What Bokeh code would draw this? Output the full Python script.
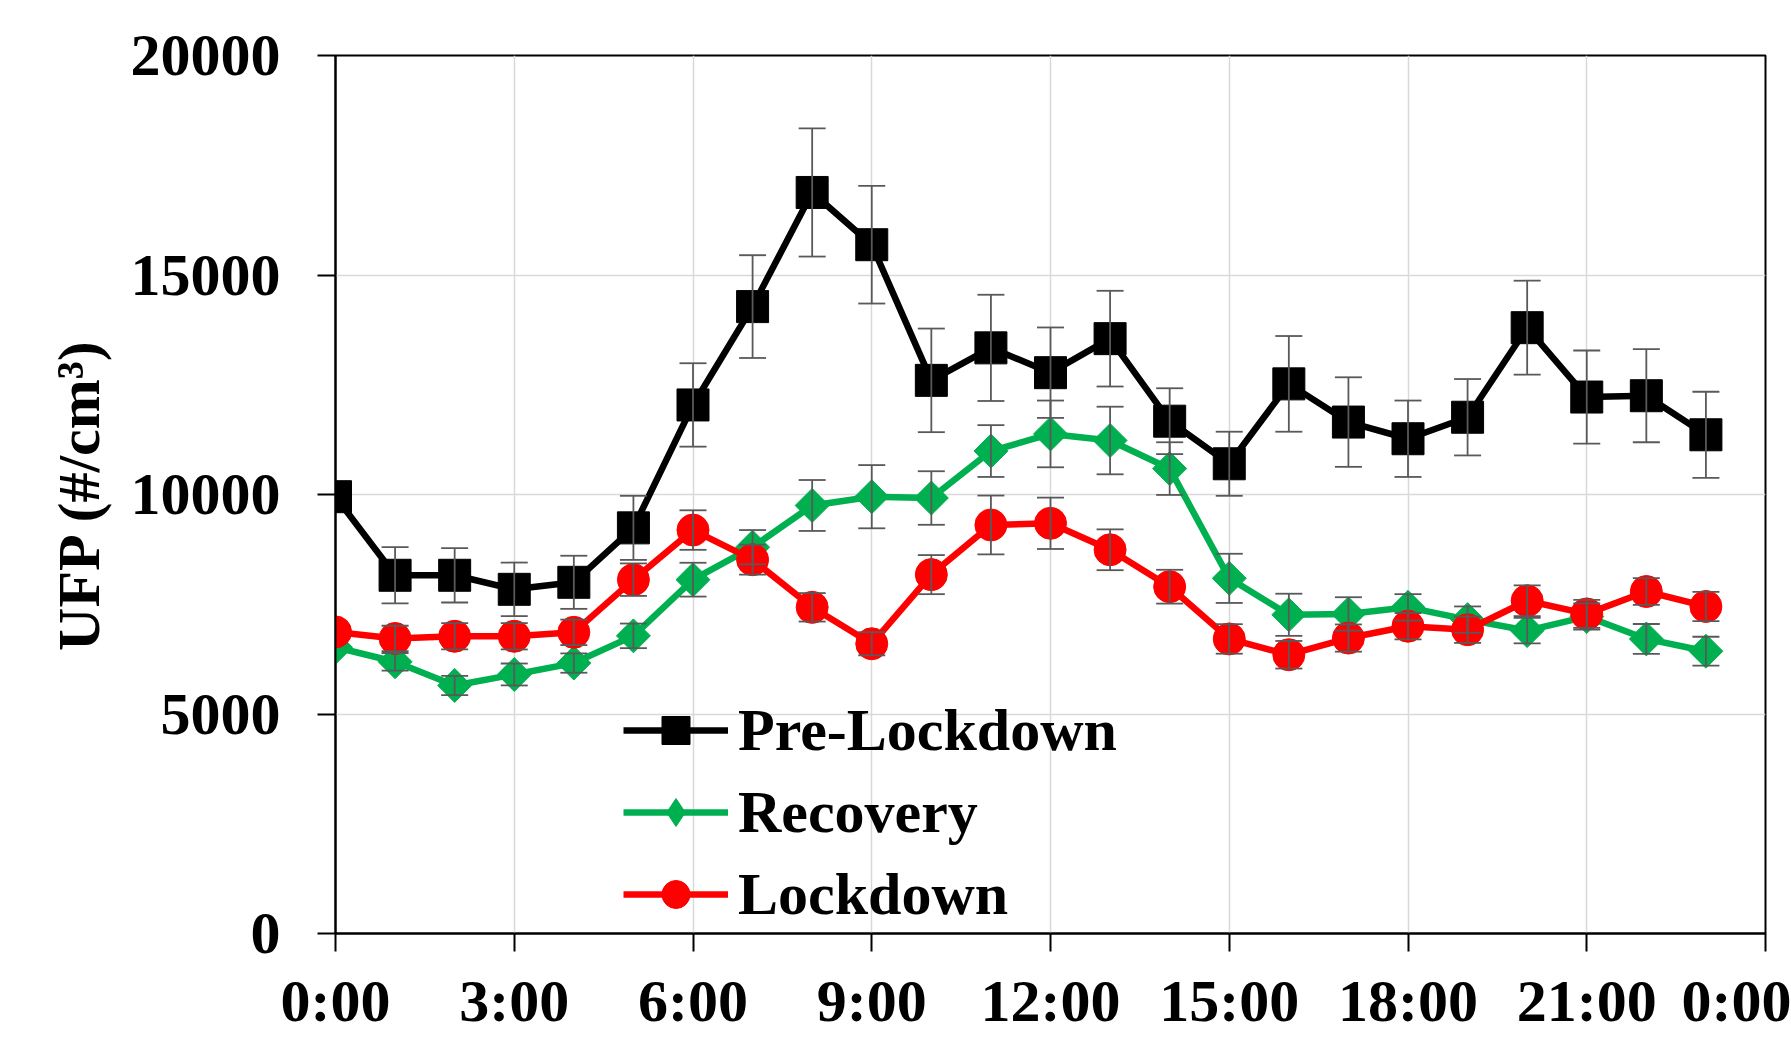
import math
from bokeh.plotting import figure
from bokeh.models import (Range1d, FixedTicker, Whisker, TeeHead, ColumnDataSource,
                          Legend, LegendItem)
from bokeh.embed import file_html
from bokeh.resources import INLINE

# ---------------- data ----------------
hours = list(range(24))
tick_hours = [0, 3, 6, 9, 12, 15, 18, 21, 24]
tick_labels = ["0:00", "3:00", "6:00", "9:00", "12:00", "15:00", "18:00", "21:00", "0:00"]
y_ticks = [0, 5000, 10000, 15000, 20000]
y_tick_labels = ["0", "5000", "10000", "15000", "20000"]

series_names = ["Pre-Lockdown", "Recovery", "Lockdown"]

pre_lockdown = [9950, 8160, 8160, 7840, 8000, 9240, 12040, 14280, 16880, 15690, 12600, 13340,
                12775, 13550, 11670, 10700, 12520, 11650, 11270, 11760, 13800, 12220, 12250, 11360]
pre_lockdown_err = [0, 640, 620, 610, 605, 730, 950, 1170, 1460, 1340, 1180, 1210,
                    1030, 1090, 750, 730, 1090, 1020, 870, 870, 1070, 1060, 1060, 980]

recovery = [6520, 6190, 5650, 5900, 6160, 6780, 8060, 8800, 9750, 9950, 9920, 10990,
            11380, 11230, 10590, 8090, 7260, 7280, 7430, 7150, 6900, 7220, 6710, 6430]
recovery_err = [0, 200, 220, 250, 220, 280, 385, 390, 580, 720, 610, 590,
                760, 770, 600, 560, 480, 380, 300, 300, 290, 300, 340, 330]

lockdown = [6870, 6720, 6770, 6770, 6860, 8060, 9190, 8515, 7430, 6600, 8175, 9306,
            9344, 8741, 7900, 6710, 6350, 6730, 7000, 6920, 7580, 7280, 7790, 7450]
lockdown_err = [0, 290, 300, 300, 290, 370, 450, 340, 324, 264, 445, 670,
                585, 465, 385, 336, 314, 310, 300, 300, 350, 320, 306, 333]

# ---------------- styles ----------------
FONT = "Liberation Serif"
FS = "60px"
colors = ["#000000", "#00B050", "#FF0000"]
markers = ["square", "square", "circle"]
legend_markers = ["square", "diamond", "circle"]
msizes = [32, 24, 32]
angles = [0, math.pi / 4, 0]
ERR_COLOR = "#595959"

p = figure(width=1791, height=1037, output_backend="svg", toolbar_location=None,
           x_range=Range1d(0, 24), y_range=Range1d(0, 20000),
           min_border_left=335, min_border_right=26, min_border_top=55, min_border_bottom=104)

p.background_fill_color = "white"
p.border_fill_color = "white"
p.outline_line_color = "black"
p.outline_line_width = 2

# axes
p.xaxis.ticker = FixedTicker(ticks=tick_hours)
p.xaxis.major_label_overrides = {h: l for h, l in zip(tick_hours, tick_labels)}
p.yaxis.ticker = FixedTicker(ticks=y_ticks)
p.yaxis.major_label_overrides = {v: l for v, l in zip(y_ticks, y_tick_labels)}

for ax in (p.xaxis[0], p.yaxis[0]):
    ax.axis_line_color = "black"
    ax.axis_line_width = 2
    ax.major_tick_line_color = "black"
    ax.major_tick_line_width = 2
    ax.major_tick_out = 18
    ax.major_tick_in = 0
    ax.minor_tick_line_color = None
    ax.major_label_text_font = FONT
    ax.major_label_text_font_style = "bold"
    ax.major_label_text_font_size = FS
    ax.major_label_text_color = "black"

p.xaxis.major_label_standoff = 16
p.yaxis.major_label_standoff = 37
p.yaxis.axis_label = "UFP (#/cm³)"
p.yaxis.axis_label_text_font = FONT
p.yaxis.axis_label_text_font_style = "bold"
p.yaxis.axis_label_text_font_size = FS
p.yaxis.axis_label_text_color = "black"
p.yaxis.axis_label_standoff = 16

# grid
p.xgrid.ticker = FixedTicker(ticks=tick_hours)
p.ygrid.ticker = FixedTicker(ticks=y_ticks)
for g in (p.xgrid[0], p.ygrid[0]):
    g.grid_line_color = "#d9d9d9"
    g.grid_line_width = 1.5

# error bars (under markers)
all_vals = [pre_lockdown, recovery, lockdown]
all_errs = [pre_lockdown_err, recovery_err, lockdown_err]
for vals, errs in zip(all_vals, all_errs):
    xs = [h for h, e in zip(hours, errs) if e > 0]
    lo = [v - e for v, e in zip(vals, errs) if e > 0]
    hi = [v + e for v, e in zip(vals, errs) if e > 0]
    src = ColumnDataSource(dict(x=xs, lower=lo, upper=hi))
    w = Whisker(source=src, base="x", lower="lower", upper="upper",
                line_color=ERR_COLOR, line_width=1.8,
                upper_head=TeeHead(size=27, line_color=ERR_COLOR, line_width=1.8),
                lower_head=TeeHead(size=27, line_color=ERR_COLOR, line_width=1.8),
                level="glyph")
    p.add_layout(w)

items = []
for name, vals, c, m, lm, s, a in zip(series_names, all_vals, colors, markers,
                                      legend_markers, msizes, angles):
    ln = p.line(hours, vals, line_color=c, line_width=6.5)
    sc = p.scatter(hours, vals, marker=m, size=s, angle=a, fill_color=c, line_color=c)
    if lm != m:
        # legend-only marker (no data drawn in the plot)
        key = p.scatter([float("nan")], [float("nan")], marker=lm, size=s,
                        fill_color=c, line_color=c)
        items.append(LegendItem(label=name, renderers=[ln, key]))
    else:
        items.append(LegendItem(label=name, renderers=[ln, sc]))

legend = Legend(items=items, location=(288, 4))
legend.label_text_font = FONT
legend.label_text_font_style = "bold"
legend.label_text_font_size = FS
legend.label_text_color = "black"
legend.glyph_width = 105
legend.glyph_height = 70
legend.label_standoff = 10
legend.label_height = 70
legend.spacing = 12
legend.padding = 0
legend.margin = 0
legend.border_line_color = None
legend.background_fill_alpha = 0
p.add_layout(legend, "center")

open("out.html", "w").write(file_html(p, INLINE))
